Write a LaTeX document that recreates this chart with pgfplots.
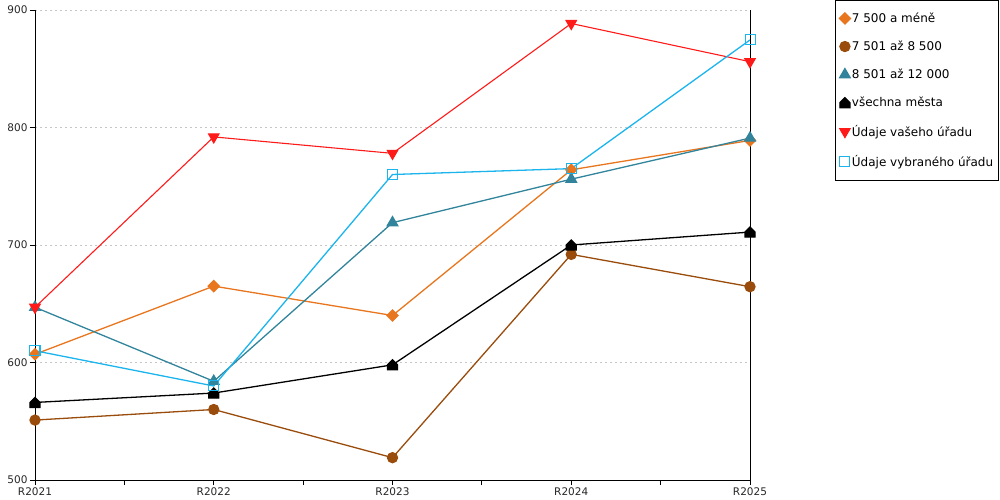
\documentclass[border=0pt]{standalone}
\usepackage{pgfplots}
\pgfplotsset{compat=1.18}
\usepackage{fontspec}
\setmainfont{DejaVu Sans}
\definecolor{cOrange}{HTML}{E8761E}
\definecolor{cBrown}{HTML}{994C0C}
\definecolor{cTeal}{HTML}{31849B}
\definecolor{cRed}{HTML}{FF1A1A}
\definecolor{cCyan}{HTML}{1CB4EC}
\pgfdeclareplotmark{house}{%
  \pgfpathmoveto{\pgfqpoint{-\pgfplotmarksize}{-\pgfplotmarksize}}%
  \pgfpathlineto{\pgfqpoint{\pgfplotmarksize}{-\pgfplotmarksize}}%
  \pgfpathlineto{\pgfqpoint{\pgfplotmarksize}{0pt}}%
  \pgfpathlineto{\pgfqpoint{0pt}{\pgfplotmarksize}}%
  \pgfpathlineto{\pgfqpoint{-\pgfplotmarksize}{0pt}}%
  \pgfpathclose
  \pgfusepathqfillstroke}
\pgfdeclareplotmark{rhomb}{%
  \pgfpathmoveto{\pgfqpoint{0pt}{\pgfplotmarksize}}%
  \pgfpathlineto{\pgfqpoint{\pgfplotmarksize}{0pt}}%
  \pgfpathlineto{\pgfqpoint{0pt}{-\pgfplotmarksize}}%
  \pgfpathlineto{\pgfqpoint{-\pgfplotmarksize}{0pt}}%
  \pgfpathclose
  \pgfusepathqfillstroke}
\begin{document}
\begin{tikzpicture}[x=1pt,y=1pt]
\useasboundingbox (0,0) rectangle (1000,500);
\begin{axis}[
  at={(35pt,20pt)}, anchor=south west,
  scale only axis, width=715pt, height=470pt,
  xmin=0, xmax=4, ymin=500, ymax=900,
  xtick={0,1,2,3,4},
  xticklabels={R2021,R2022,R2023,R2024,R2025},
  minor xtick={0.5,1.5,2.5,3.5},
  ytick={500,600,700,800,900},
  axis x line*=bottom, axis y line*=left,
  axis line style={black, line width=0.8pt, -},
  tick style={black, line width=0.8pt},
  tick align=outside,
  major tick length=5pt, minor tick length=5pt,
  ymajorgrids, grid style={gray!45, dash pattern=on 2pt off 3pt, line width=0.7pt},
  tick label style={font=\fontsize{10.5}{12}\selectfont, text=black!85},
  /pgf/number format/assume math mode=true,
  xticklabel style={yshift=1pt},
  yticklabel style={xshift=1pt},
  clip=false,
  legend cell align=left,
  legend style={at={(1.1189,1.0213)}, anchor=north west, draw=black, line width=0.8pt,
    font=\fontsize{12}{14}\selectfont, row sep=13pt, inner xsep=4pt, inner ysep=10.5pt,
    nodes={inner xsep=1.5pt},
    /tikz/every even column/.append style={column sep=0pt}},
  legend image code/.code={\draw[#1] plot coordinates {(0.1cm,0cm)};},
  every axis plot/.append style={line width=1.3pt},
]
\addplot[cOrange, mark=rhomb, mark size=5.5pt, mark options={fill=cOrange}]
  coordinates {(0,607) (1,665) (2,640) (3,764) (4,789)};
\addlegendentry{7 500 a méně}
\addplot[cBrown, mark=*, mark size=5pt, mark options={fill=cBrown}]
  coordinates {(0,551) (1,560) (2,519) (3,692) (4,664.5)};
\addlegendentry{7 501 až 8 500}
\addplot[cTeal, mark=triangle*, mark size=6pt, mark options={fill=cTeal}]
  coordinates {(0,647) (1,584) (2,719) (3,756) (4,791)};
\addlegendentry{8 501 až 12 000}
\addplot[black, mark=house, mark size=5pt, mark options={fill=black}]
  coordinates {(0,566) (1,574) (2,598) (3,700) (4,711)};
\addlegendentry{všechna města}
\addplot[cRed, line width=1.1pt, mark=triangle*, mark size=6pt, mark options={fill=cRed, rotate=180}]
  coordinates {(0,647) (1,792) (2,778) (3,888.5) (4,856)};
\addlegendentry{Údaje vašeho úřadu}
\addplot[cCyan, mark=square, mark size=5pt, mark options={fill=white, line width=1pt}]
  coordinates {(0,610) (1,580) (2,760) (3,765) (4,874.5)};
\addlegendentry{Údaje vybraného úřadu}
\draw[black, line width=0.8pt] (rel axis cs:1,0) -- (rel axis cs:1,1);
\end{axis}
\end{tikzpicture}
\end{document}
